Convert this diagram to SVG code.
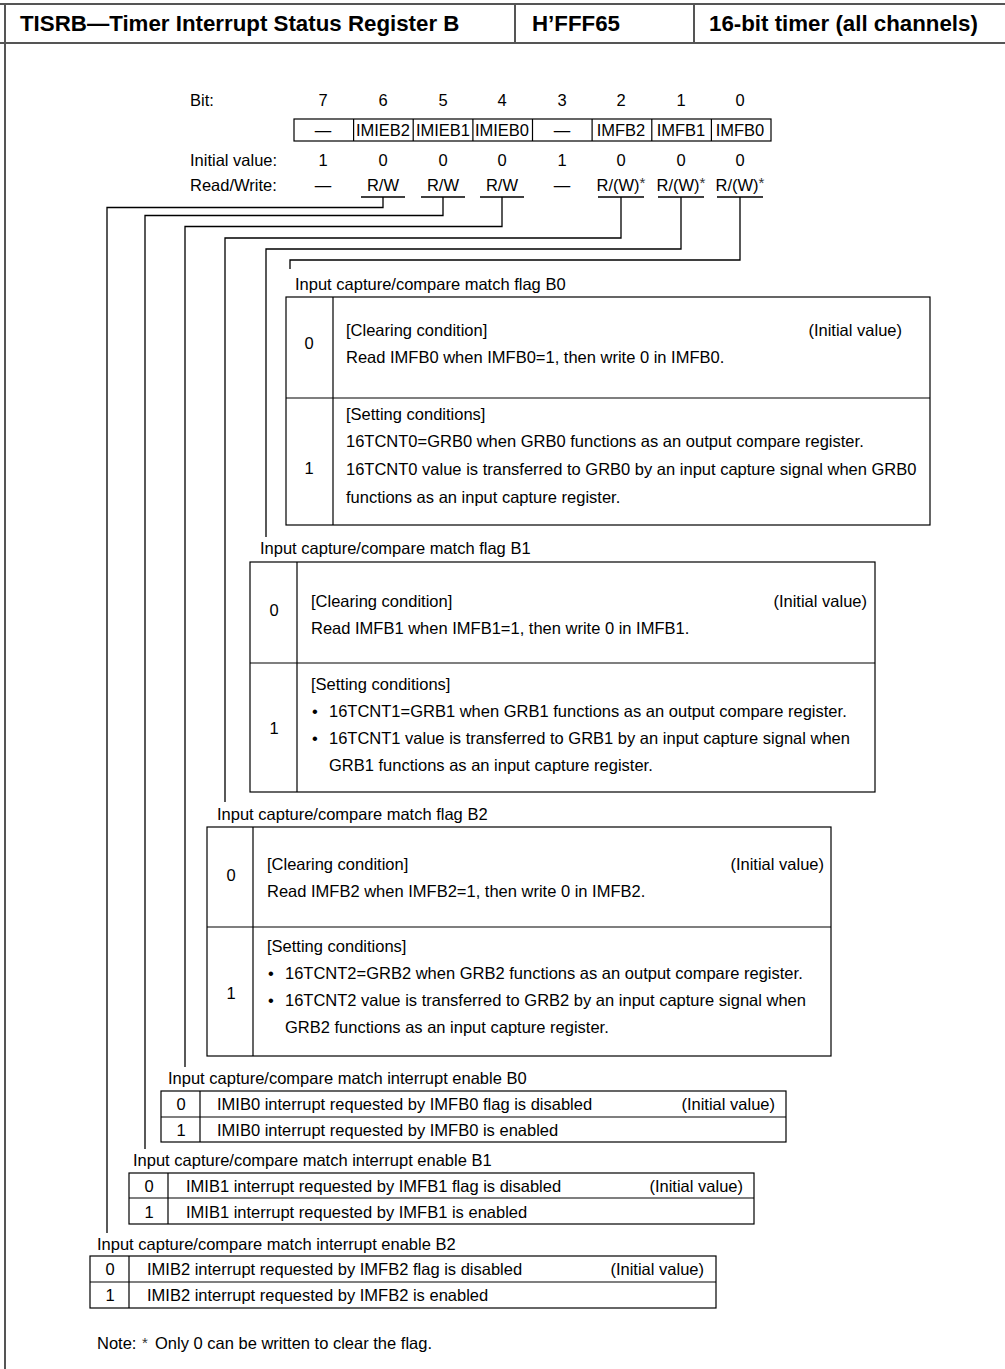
<svg xmlns="http://www.w3.org/2000/svg" width="1005" height="1369" viewBox="0 0 1005 1369">
<style>
text{font-family:"Liberation Sans",Arial,sans-serif;font-size:16.5px;fill:#000}
.h{font-size:22.3px;font-weight:bold}
.m{text-anchor:middle}
.e{text-anchor:end}
.sup{font-size:15px;fill:#333}
.ln{fill:none;stroke:#000;stroke-width:1.3}
.bx{fill:none;stroke:#000;stroke-width:1.2}
.fr{fill:none;stroke:#555;stroke-width:2}
</style>
<g id="frame">
<line class="fr" x1="0" y1="4" x2="1005" y2="4"/>
<line class="fr" x1="0" y1="43" x2="1005" y2="43"/>
<line class="fr" x1="5" y1="4" x2="5" y2="1369"/>
<line class="fr" x1="515" y1="4" x2="515" y2="43"/>
<line class="fr" x1="694" y1="4" x2="694" y2="43"/>
<text class="h" x="20" y="31">TISRB—Timer Interrupt Status Register B</text>
<text class="h" x="532" y="31">H’FFF65</text>
<text class="h" x="709" y="31">16-bit timer (all channels)</text>
</g>
<g id="register">
<text x="190" y="106">Bit:</text>
<text x="190" y="166">Initial value:</text>
<text x="190" y="191">Read/Write:</text>
<text class="m" x="323" y="106">7</text><text class="m" x="383" y="106">6</text><text class="m" x="443" y="106">5</text><text class="m" x="502" y="106">4</text><text class="m" x="562" y="106">3</text><text class="m" x="621" y="106">2</text><text class="m" x="681" y="106">1</text><text class="m" x="740" y="106">0</text>
<rect class="bx" x="294" y="119" width="477" height="22"/>
<path class="bx" d="M353.6 119V141M413.2 119V141M472.9 119V141M532.5 119V141M592.1 119V141M651.8 119V141M711.4 119V141"/>
<text class="m" x="323" y="136">—</text><text class="m" x="383" y="136">IMIEB2</text><text class="m" x="443" y="136">IMIEB1</text><text class="m" x="502" y="136">IMIEB0</text><text class="m" x="562" y="136">—</text><text class="m" x="621" y="136">IMFB2</text><text class="m" x="681" y="136">IMFB1</text><text class="m" x="740" y="136">IMFB0</text>
<text class="m" x="323" y="166">1</text><text class="m" x="383" y="166">0</text><text class="m" x="443" y="166">0</text><text class="m" x="502" y="166">0</text><text class="m" x="562" y="166">1</text><text class="m" x="621" y="166">0</text><text class="m" x="681" y="166">0</text><text class="m" x="740" y="166">0</text>
<text class="m" x="323" y="191">—</text><text class="m" x="383" y="191">R/W</text><text class="m" x="443" y="191">R/W</text><text class="m" x="502" y="191">R/W</text><text class="m" x="562" y="191">—</text>
<text class="m" x="621" y="191">R/(W)<tspan class="sup" dy="-3">*</tspan></text><text class="m" x="681" y="191">R/(W)<tspan class="sup" dy="-3">*</tspan></text><text class="m" x="740" y="191">R/(W)<tspan class="sup" dy="-3">*</tspan></text>
<path class="ln" d="M361 197H405M421 197H465M480 197H524M598 197H644M658 197H704M717 197H763"/>
</g>
<g id="connectors">
<path class="ln" d="M383 197V207.5H107V1233"/>
<path class="ln" d="M443 197V215.5H145V1149"/>
<path class="ln" d="M502 197V226.5H185V1067"/>
<path class="ln" d="M621 197V238H225V802"/>
<path class="ln" d="M681 197V249H266V537"/>
<path class="ln" d="M740 197V260H290V269"/>
</g>
<g id="flagB0">
<text x="295" y="290">Input capture/compare match flag B0</text>
<rect class="bx" x="286" y="297" width="644" height="228"/>
<path class="bx" d="M333 297V525M286 398H930"/>
<text class="m" x="309" y="349">0</text>
<text x="346" y="336">[Clearing condition]</text>
<text class="e" x="902" y="336">(Initial value)</text>
<text x="346" y="363">Read IMFB0 when IMFB0=1, then write 0 in IMFB0.</text>
<text class="m" x="309" y="474">1</text>
<text x="346" y="420">[Setting conditions]</text>
<text x="346" y="447">16TCNT0=GRB0 when GRB0 functions as an output compare register.</text>
<text x="346" y="475">16TCNT0 value is transferred to GRB0 by an input capture signal when GRB0</text>
<text x="346" y="503">functions as an input capture register.</text>
</g>
<g id="flagB1">
<text x="260" y="554">Input capture/compare match flag B1</text>
<rect class="bx" x="250" y="562" width="625" height="230"/>
<path class="bx" d="M297 562V792M250 663H875"/>
<text class="m" x="274" y="616">0</text>
<text x="311" y="607">[Clearing condition]</text>
<text class="e" x="867" y="607">(Initial value)</text>
<text x="311" y="634">Read IMFB1 when IMFB1=1, then write 0 in IMFB1.</text>
<text class="m" x="274" y="734">1</text>
<text x="311" y="690">[Setting conditions]</text>
<text x="312" y="717">•</text><text x="329" y="717">16TCNT1=GRB1 when GRB1 functions as an output compare register.</text>
<text x="312" y="744">•</text><text x="329" y="744">16TCNT1 value is transferred to GRB1 by an input capture signal when</text>
<text x="329" y="771">GRB1 functions as an input capture register.</text>
</g>
<g id="flagB2">
<text x="217" y="820">Input capture/compare match flag B2</text>
<rect class="bx" x="207" y="827" width="624" height="229"/>
<path class="bx" d="M253 827V1056M207 927H831"/>
<text class="m" x="231" y="881">0</text>
<text x="267" y="870">[Clearing condition]</text>
<text class="e" x="824" y="870">(Initial value)</text>
<text x="267" y="897">Read IMFB2 when IMFB2=1, then write 0 in IMFB2.</text>
<text class="m" x="231" y="999">1</text>
<text x="267" y="952">[Setting conditions]</text>
<text x="268" y="979">•</text><text x="285" y="979">16TCNT2=GRB2 when GRB2 functions as an output compare register.</text>
<text x="268" y="1006">•</text><text x="285" y="1006">16TCNT2 value is transferred to GRB2 by an input capture signal when</text>
<text x="285" y="1033">GRB2 functions as an input capture register.</text>
</g>
<g id="enableB0">
<text x="168" y="1084">Input capture/compare match interrupt enable B0</text>
<rect class="bx" x="161" y="1091" width="625" height="51"/>
<path class="bx" d="M200 1091V1142M161 1117H786"/>
<text class="m" x="181" y="1110">0</text>
<text x="217" y="1110">IMIB0 interrupt requested by IMFB0 flag is disabled</text>
<text class="e" x="775" y="1110">(Initial value)</text>
<text class="m" x="181" y="1136">1</text>
<text x="217" y="1136">IMIB0 interrupt requested by IMFB0 is enabled</text>
</g>
<g id="enableB1">
<text x="133" y="1166">Input capture/compare match interrupt enable B1</text>
<rect class="bx" x="129" y="1173" width="625" height="51"/>
<path class="bx" d="M168 1173V1224M129 1198H754"/>
<text class="m" x="149" y="1192">0</text>
<text x="186" y="1192">IMIB1 interrupt requested by IMFB1 flag is disabled</text>
<text class="e" x="743" y="1192">(Initial value)</text>
<text class="m" x="149" y="1218">1</text>
<text x="186" y="1218">IMIB1 interrupt requested by IMFB1 is enabled</text>
</g>
<g id="enableB2">
<text x="97" y="1250">Input capture/compare match interrupt enable B2</text>
<rect class="bx" x="90" y="1256" width="626" height="52"/>
<path class="bx" d="M129 1256V1308M90 1282H716"/>
<text class="m" x="110" y="1275">0</text>
<text x="147" y="1275">IMIB2 interrupt requested by IMFB2 flag is disabled</text>
<text class="e" x="704" y="1275">(Initial value)</text>
<text class="m" x="110" y="1301">1</text>
<text x="147" y="1301">IMIB2 interrupt requested by IMFB2 is enabled</text>
</g>
<g id="note">
<text x="97" y="1349">Note:</text>
<text class="sup" x="142" y="1348">*</text>
<text x="155" y="1349">Only 0 can be written to clear the flag.</text>
</g>
</svg>
